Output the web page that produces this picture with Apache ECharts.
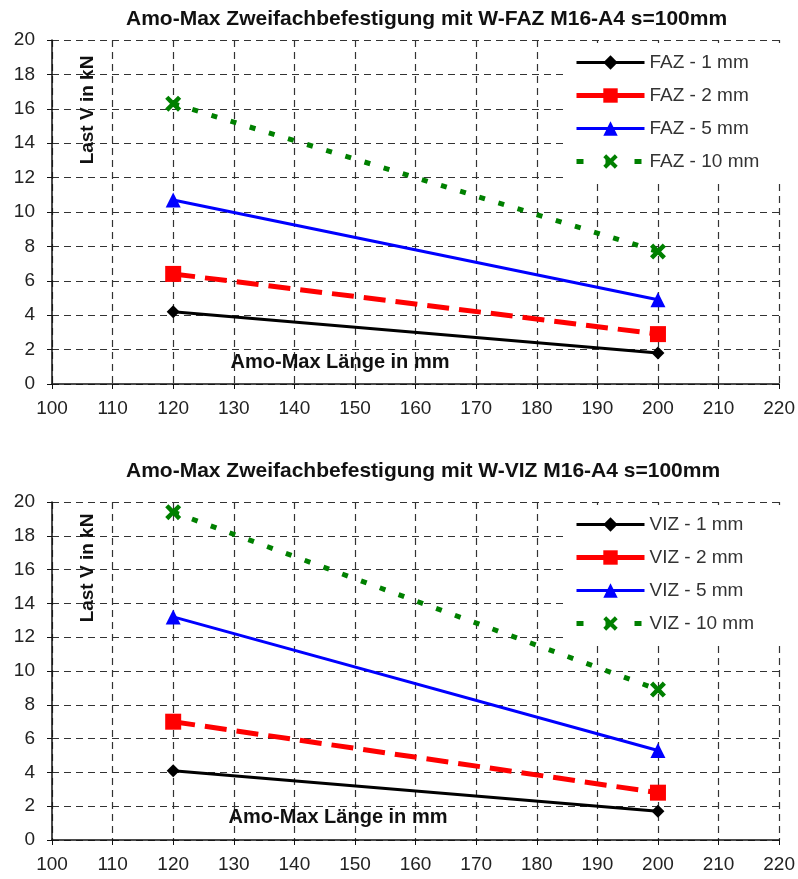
<!DOCTYPE html>
<html>
<head>
<meta charset="utf-8">
<script src="https://cdn.jsdelivr.net/npm/echarts@6/dist/echarts.min.js"></script>
<style>
  html, body { margin: 0; padding: 0; background: #fff; }
  #chart { width: 798px; height: 879px; }
</style>
</head>
<body>
<div id="chart"></div>
<script>
// Amo-Max length (x values)
const lengths = [120, 200];

// upper chart: W-FAZ
const faz1 = [4.2, 1.8];
const faz2 = [6.4, 2.9];
const faz5 = [10.7, 4.9];
const faz10 = [16.3, 7.7];

// lower chart: W-VIZ
const viz1 = [4.1, 1.7];
const viz2 = [7.0, 2.8];
const viz5 = [13.2, 5.3];
const viz10 = [19.4, 8.9];

const titles = [
  'Amo-Max Zweifachbefestigung mit W-FAZ M16-A4 s=100mm',
  'Amo-Max Zweifachbefestigung mit W-VIZ M16-A4 s=100mm'
];
const xTicks = { min: 100, max: 220, step: 10 };
const yTicks = { min: 0, max: 20, step: 2 };

const fontFam = '"Liberation Sans", Arial, sans-serif';
const crossPath = 'path://M0,2 L2,0 L5,3 L8,0 L10,2 L7,5 L10,8 L8,10 L5,7 L2,10 L0,8 L3,5 Z';

// styles for the four series (1, 2, 5, 10 mm)
const styles = [
  { color: '#000000', width: 3, type: 'solid', legendType: 'solid', symbol: 'diamond', size: 13 },
  { color: '#ff0000', width: 5, type: [22, 10], legendType: 'solid', symbol: 'rect', size: 16 },
  { color: '#0000ff', width: 3, type: 'solid', legendType: 'solid', symbol: 'triangle', size: 15 },
  { color: '#008000', width: 5, type: [6, 14], legendType: [7, 22], symbol: crossPath, size: 16 }
];

const grids = [
  { left: 52, right: 18, top: 40, height: 344 },
  { left: 52, right: 18, top: 502, height: 338 }
];

function makeSeries(prefix, sets, idx) {
  const labels = ['1 mm', '2 mm', '5 mm', '10 mm'];
  return sets.map((vals, i) => {
    const s = styles[i];
    return {
      name: prefix + ' - ' + labels[i],
      type: 'line',
      xAxisIndex: idx,
      yAxisIndex: idx,
      data: lengths.map((x, k) => [x, vals[k]]),
      symbol: s.symbol,
      symbolSize: s.size,
      lineStyle: { color: s.color, width: s.width, type: s.type },
      itemStyle: { color: s.color },
      animation: false,
      z: 3
    };
  });
}

const series = [].concat(
  makeSeries('FAZ', [faz1, faz2, faz5, faz10], 0),
  makeSeries('VIZ', [viz1, viz2, viz5, viz10], 1)
);

function axisX(idx) {
  return {
    type: 'value', gridIndex: idx,
    min: xTicks.min, max: xTicks.max, interval: xTicks.step,
    axisLine: { lineStyle: { color: '#111', width: 1.5 } },
    axisTick: { length: 5, lineStyle: { color: '#111' } },
    axisLabel: { color: '#222', fontSize: 19, fontFamily: fontFam, margin: 15 },
    splitLine: { show: true, lineStyle: { color: '#333', type: [7, 5], width: 1.2 } }
  };
}
function axisY(idx) {
  return {
    type: 'value', gridIndex: idx,
    min: yTicks.min, max: yTicks.max, interval: yTicks.step,
    axisLine: { show: true, lineStyle: { color: '#111', width: 1.5 } },
    axisTick: { show: true, length: 5, lineStyle: { color: '#111' } },
    axisLabel: { color: '#222', fontSize: 19, fontFamily: fontFam, margin: 17 },
    splitLine: { show: true, lineStyle: { color: '#333', type: [7, 5], width: 1.2 } }
  };
}

function legendData(list) {
  return list.map((s, i) => ({ name: s.name, lineStyle: { type: styles[i].legendType } }));
}

const legendBase = {
  orient: 'vertical',
  left: 564,
  itemWidth: 68,
  itemHeight: 18,
  itemGap: 14,
  backgroundColor: '#fff',
  padding: [10, 32, 10, 10],
  lineStyle: { width: 'inherit' },
  textStyle: { fontSize: 19, color: '#333', fontFamily: fontFam },
  z: 5
};

const titleStyle = { fontSize: 21, fontWeight: 'bold', color: '#111', fontFamily: fontFam };

const chart = echarts.init(document.getElementById('chart'));
chart.setOption({
  backgroundColor: '#fff',
  animation: false,
  title: [
    { text: titles[0], left: 121, top: 4, textStyle: titleStyle },
    { text: titles[1], left: 121, top: 456, textStyle: titleStyle }
  ],
  legend: [
    Object.assign({}, legendBase, { top: 43, data: legendData(series.slice(0, 4)) }),
    Object.assign({}, legendBase, { top: 505, data: legendData(series.slice(4)) })
  ],
  grid: grids,
  xAxis: [axisX(0), axisX(1)],
  yAxis: [axisY(0), axisY(1)],
  series: series,
  graphic: [
    { type: 'text', x: 88, y: 110, rotation: Math.PI / 2, style: { text: 'Last V in kN', font: 'bold 19px ' + fontFam, fill: '#111', textAlign: 'center', textVerticalAlign: 'middle' }, z: 10 },
    { type: 'text', x: 88, y: 568, rotation: Math.PI / 2, style: { text: 'Last V in kN', font: 'bold 19px ' + fontFam, fill: '#111', textAlign: 'center', textVerticalAlign: 'middle' }, z: 10 },
    { type: 'text', x: 340, y: 362, style: { text: 'Amo-Max Länge in mm', font: 'bold 20px ' + fontFam, fill: '#111', textAlign: 'center', textVerticalAlign: 'middle' }, z: 10 },
    { type: 'text', x: 338, y: 817, style: { text: 'Amo-Max Länge in mm', font: 'bold 20px ' + fontFam, fill: '#111', textAlign: 'center', textVerticalAlign: 'middle' }, z: 10 }
  ]
});
</script>
</body>
</html>
